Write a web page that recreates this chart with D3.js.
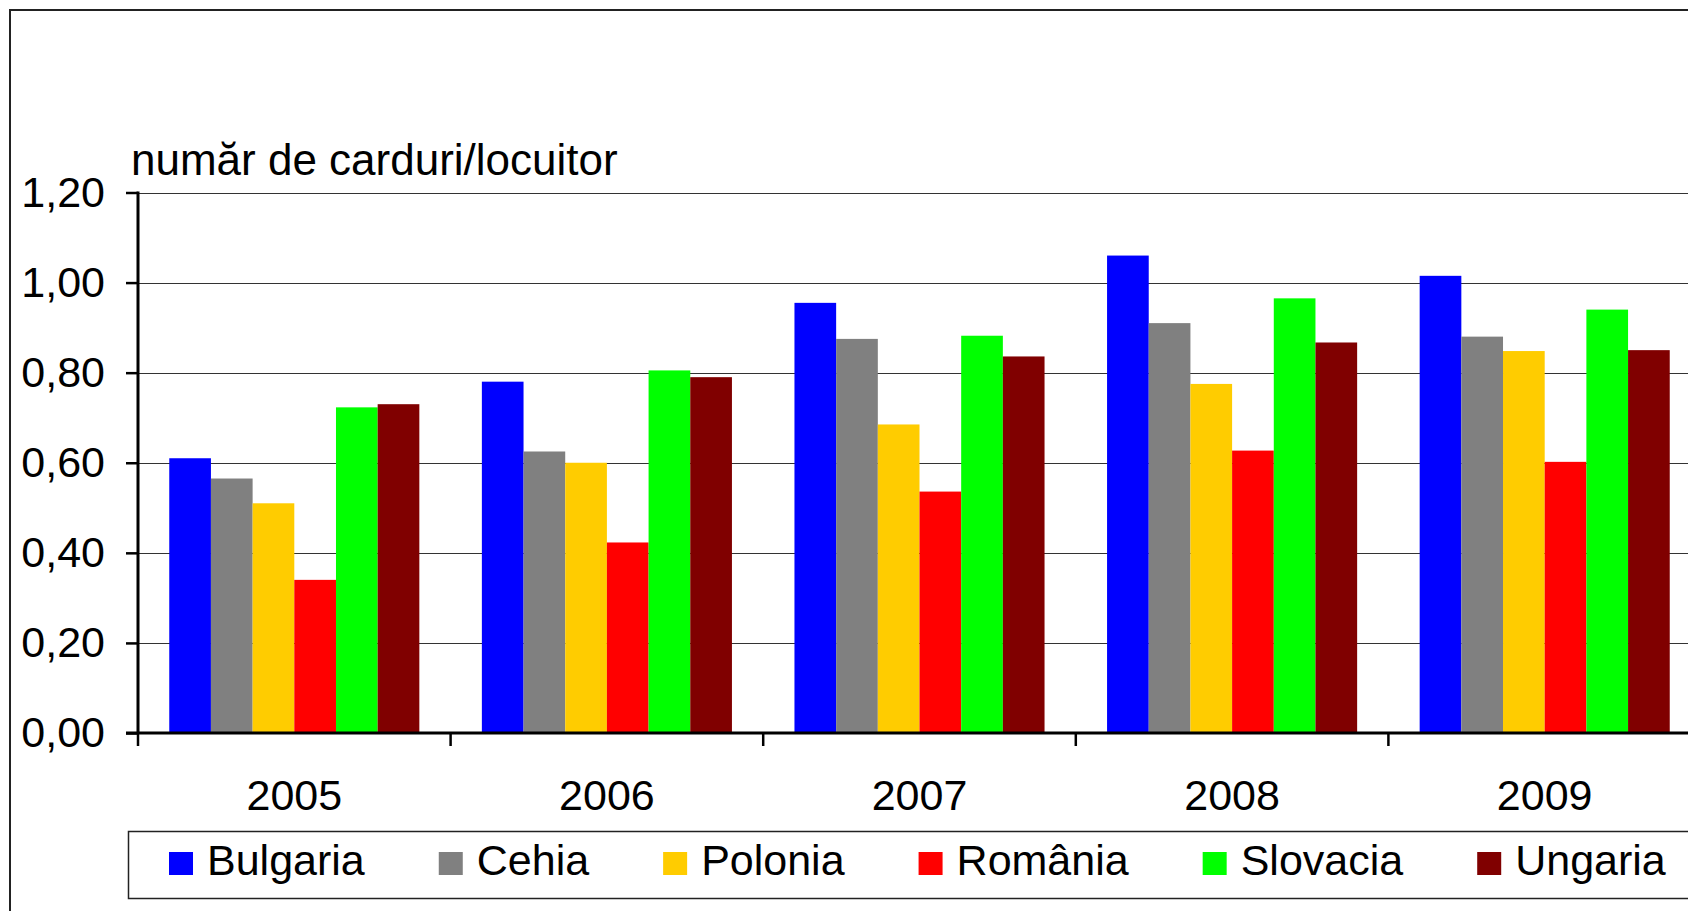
<!DOCTYPE html>
<html>
<head>
<meta charset="utf-8">
<script src="https://cdnjs.cloudflare.com/ajax/libs/d3/7.8.5/d3.min.js"></script>
<style>
  body { margin: 0; background: #fff; overflow: hidden; }
  text { font-family: "Liberation Sans", Arial, sans-serif; fill: #000; }
</style>
</head>
<body>
<script>
// categories and series
var years = ["2005", "2006", "2007", "2008", "2009"];
var countries = ["Bulgaria", "Cehia", "Polonia", "România", "Slovacia", "Ungaria"];
var bulgaria = [0.61, 0.78, 0.955, 1.06, 1.015];
var cehia    = [0.565, 0.625, 0.875, 0.91, 0.88];
var polonia  = [0.51, 0.60, 0.685, 0.775, 0.848];
var romania  = [0.34, 0.423, 0.536, 0.627, 0.602];
var slovacia = [0.723, 0.805, 0.882, 0.965, 0.94];
var ungaria  = [0.73, 0.79, 0.836, 0.867, 0.85];
var yTicks = [0, 0.2, 0.4, 0.6, 0.8, 1.0, 1.2];
var yTitle = "număr de carduri/locuitor";

var series = [bulgaria, cehia, polonia, romania, slovacia, ungaria];
var colors = ["#0000ff", "#808080", "#ffcc00", "#ff0000", "#00ff00", "#800000"];

var width = 1688, height = 911;
var plotLeft = 138, plotBottom = 733, plotTop = 192.5;
var plotRight = 1701;
var fontSize = 43;

var svg = d3.select("body")
    .append("svg")
    .attr("width", width)
    .attr("height", height);

// outer border (cut off on the right and bottom)
svg.append("rect")
    .attr("x", 10).attr("y", 10)
    .attr("width", width + 20).attr("height", height + 20)
    .attr("fill", "none")
    .attr("stroke", "#222")
    .attr("stroke-width", 2);

var x0 = d3.scaleBand()
    .domain(years)
    .range([plotLeft, plotRight])
    .paddingInner(0.2)
    .paddingOuter(0.1);

var x1 = d3.scaleBand()
    .domain(countries)
    .range([0, x0.bandwidth()]);

var y = d3.scaleLinear()
    .domain([0, 1.2])
    .range([plotBottom, plotTop]);

var comma = d3.formatLocale({decimal: ",", thousands: ".", grouping: [3], currency: ["", ""]}).format(".2f");

// gridlines
svg.append("g")
    .selectAll("line")
    .data(yTicks.filter(function(d) { return d > 0; }))
    .enter()
    .append("line")
    .attr("x1", plotLeft)
    .attr("x2", width)
    .attr("y1", function(d) { return Math.round(y(d)) + 0.5; })
    .attr("y2", function(d) { return Math.round(y(d)) + 0.5; })
    .attr("stroke", "#333")
    .attr("stroke-width", 1.2);

// bars
var rows = [];
years.forEach(function(yr, i) {
    countries.forEach(function(c, j) {
        rows.push({year: yr, country: c, value: series[j][i], color: colors[j]});
    });
});

svg.append("g")
    .selectAll("rect")
    .data(rows)
    .enter()
    .append("rect")
    .attr("x", function(d) { return x0(d.year) + x1(d.country); })
    .attr("y", function(d) { return y(d.value); })
    .attr("width", x1.bandwidth())
    .attr("height", function(d) { return plotBottom - y(d.value); })
    .attr("fill", function(d) { return d.color; });

// y axis
var yAxis = svg.append("g")
    .attr("transform", "translate(" + plotLeft + ",0)")
    .call(d3.axisLeft(y)
        .tickValues(yTicks)
        .tickFormat(comma)
        .tickSize(12)
        .tickPadding(21));
yAxis.select(".domain").remove();
yAxis.selectAll(".tick line").attr("stroke", "#000").attr("stroke-width", 2.5);
yAxis.selectAll("text").attr("font-size", fontSize).attr("fill", "#000")
    .attr("font-family", "'Liberation Sans', Arial, sans-serif");

svg.append("line")
    .attr("x1", plotLeft).attr("x2", plotLeft)
    .attr("y1", plotTop - 1).attr("y2", plotBottom)
    .attr("stroke", "#000")
    .attr("stroke-width", 3);

// x axis
var xAxis = svg.append("g")
    .attr("transform", "translate(0," + plotBottom + ")")
    .call(d3.axisBottom(x0)
        .tickSize(0)
        .tickPadding(46));
xAxis.select(".domain").remove();
xAxis.selectAll("text").attr("font-size", fontSize).attr("fill", "#000")
    .attr("font-family", "'Liberation Sans', Arial, sans-serif");

svg.append("line")
    .attr("x1", plotLeft - 12).attr("x2", width)
    .attr("y1", plotBottom).attr("y2", plotBottom)
    .attr("stroke", "#000")
    .attr("stroke-width", 3);

svg.append("g")
    .selectAll("line")
    .data(d3.range(years.length + 1))
    .enter()
    .append("line")
    .attr("x1", function(i) { return plotLeft + i * x0.step(); })
    .attr("x2", function(i) { return plotLeft + i * x0.step(); })
    .attr("y1", plotBottom)
    .attr("y2", plotBottom + 13)
    .attr("stroke", "#000")
    .attr("stroke-width", 2.5);

// axis title
svg.append("text")
    .attr("x", 131)
    .attr("y", 175)
    .attr("font-size", 44)
    .text(yTitle);

// legend
svg.append("rect")
    .attr("x", 128.5).attr("y", 831.5)
    .attr("width", 1700).attr("height", 67)
    .attr("fill", "none")
    .attr("stroke", "#222")
    .attr("stroke-width", 1.5);

var lx = 169;
countries.forEach(function(c, j) {
    svg.append("rect")
        .attr("x", lx).attr("y", 852)
        .attr("width", 24).attr("height", 23)
        .attr("fill", colors[j]);
    var t = svg.append("text")
        .attr("x", lx + 38)
        .attr("y", 875)
        .attr("font-size", fontSize)
        .text(c);
    lx += 38 + t.node().getComputedTextLength() + 74;
});
</script>
</body>
</html>
